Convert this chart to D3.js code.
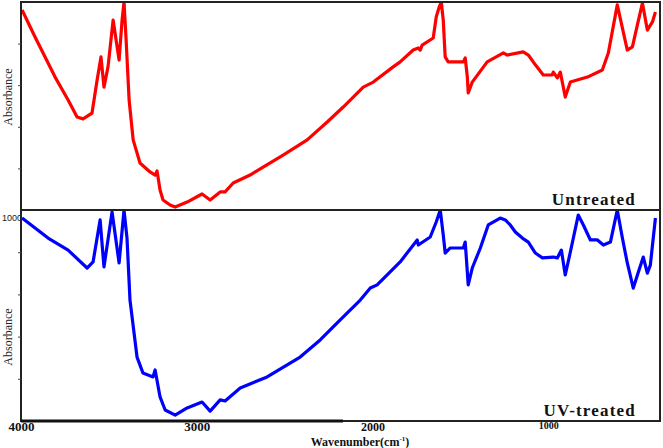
<!DOCTYPE html>
<html><head><meta charset="utf-8">
<script src="https://cdn.jsdelivr.net/npm/d3@7"></script>
<style>html,body{margin:0;padding:0;background:#fff;}svg{display:block;}</style>
</head><body>
<svg id="c" width="663" height="448"></svg>
<script>
// Wavenumber (cm^-1) and relative absorbance (0-100)
const untreatedWave = [3994,3920,3806,3732,3681,3647,3596,3567,3545,3528,3505,3476,3442,3425,3414,3402,3385,3362,3323,3266,3237,3226,3209,3192,3152,3123,3055,2970,2924,2867,2839,2793,2697,2509,2372,2258,2167,2053,1996,1883,1843,1769,1740,1729,1718,1655,1638,1621,1609,1598,1587,1570,1484,1473,1461,1456,1433,1348,1256,1234,1143,1114,1086,1029,978,972,949,932,904,875,778,693,659,608,551,522,494,465,437,408,391];
const untreatedAbs = [96.2,83.2,63.9,52.9,44.7,43.8,46.6,62.5,73.6,59.1,68.8,91.3,72.1,91.3,100,81.7,52.9,33.7,22.6,18.3,16.8,18.8,9.6,4.8,2.4,1.4,3.8,7.7,4.8,8.7,8.7,13.0,16.8,26.4,33.7,42.3,49.5,59.1,61.5,68.8,71.2,76.9,77.9,76.9,79.3,82.7,92.8,97.6,100,91.3,73.6,71.2,71.2,73.1,63.9,56.3,61.5,71.2,75.5,74.5,76.0,74.5,71.2,64.9,64.9,66.3,63.5,66.3,54.3,61.5,63.9,67.3,75.5,98.6,76.9,78.4,88.9,99.5,86.5,90.4,95.2];

const uvWave = [3994,3846,3732,3624,3590,3550,3528,3482,3442,3414,3397,3380,3340,3306,3249,3237,3209,3180,3123,3055,2970,2924,2867,2839,2753,2600,2412,2298,2184,2070,2013,1974,1843,1746,1740,1672,1638,1615,1598,1587,1558,1484,1473,1461,1456,1433,1387,1342,1274,1245,1217,1188,1148,1114,1074,1034,972,949,926,904,875,830,801,761,721,687,647,608,579,551,517,488,460,437,420,391];
const uvAbs = [96.2,86.7,81.0,72.5,75.4,95.3,73.0,99.1,74.9,100,86.7,57.3,30.3,22.7,20.9,24.2,11.4,5.2,2.8,6.2,9.0,4.7,10.0,9.5,15.6,20.9,30.3,38.4,47.9,57.3,63.0,64.5,75.4,85.8,83.4,87.2,94.3,100,88.2,79.6,82.0,82.0,84.8,70.6,64.5,72.5,82.0,92.9,96.2,95.3,92.9,89.6,86.7,84.8,79.6,77.3,77.7,77.3,81.0,69.2,80.1,97.6,92.9,85.8,85.8,83.4,84.8,100,86.7,74.9,63.0,70.6,77.7,70.1,73.9,96.2];

const xTicks = [4000,3000,2000,1000];
const panelLabels = ["Untreated","UV-treated"];
const yLabel = "Absorbance";
const xLabel = "Wavenumber(cm";

const svg = d3.select("#c");
const L = 21, R = 660;
const x = d3.scaleLinear().domain([4000, 365]).range([L, R]);
const panels = [
  {wave: untreatedWave, abs: untreatedAbs, top: 2, bottom: 210, color: "#ff0000", label: panelLabels[0], ly: 97},
  {wave: uvWave, abs: uvAbs, top: 210, bottom: 421, color: "#0000ff", label: panelLabels[1], ly: 337}
];

panels.forEach((p, i) => {
  const y = d3.scaleLinear().domain([0, 100]).range([p.bottom, p.top]);
  const cid = "clip" + i;
  svg.append("clipPath").attr("id", cid).append("rect")
    .attr("x", L).attr("y", p.top).attr("width", R - L).attr("height", p.bottom - p.top);
  const data = p.wave.map((w, k) => [w, p.abs[k]]);
  const line = d3.line().x(d => x(d[0])).y(d => y(d[1]));
  svg.append("path").datum(data)
    .attr("clip-path", `url(#${cid})`)
    .attr("d", line).attr("fill", "none")
    .attr("stroke", p.color).attr("stroke-width", 3.2)
    .attr("stroke-linejoin", "round");
  // frame
  svg.append("rect").attr("x", L).attr("y", p.top).attr("width", R - L).attr("height", p.bottom - p.top)
    .attr("fill", "none").attr("stroke", "#222").attr("stroke-width", 2);
  // left minor ticks
  const ya = d3.axisLeft(y).tickValues([20, 40, 60, 80]).tickSize(3).tickFormat("");
  svg.append("g").attr("transform", `translate(${L},0)`).call(ya)
    .call(g => g.select(".domain").remove())
    .selectAll("line").attr("stroke", "#444");
  // panel label
  svg.append("text").attr("x", 636).attr("y", p.bottom - 5).attr("text-anchor", "end")
    .attr("font-family", "Liberation Serif, serif").attr("font-weight", "bold")
    .attr("font-size", 17).attr("letter-spacing", 1.2).attr("fill", "#111").text(p.label);
  // y label
  svg.append("text").attr("transform", `translate(12,${p.ly}) rotate(-90)`)
    .attr("text-anchor", "middle").attr("font-family", "Liberation Serif, serif")
    .attr("font-size", 12).attr("fill", "#222").text(yLabel);
});

// small "1000" at top-left of lower panel
svg.append("text").attr("x", 2).attr("y", 221).attr("font-family", "Liberation Sans, sans-serif")
  .attr("font-size", 9).attr("fill", "#222").text("1000");

// bottom axis line thicker
svg.append("line").attr("x1", L).attr("x2", 343).attr("y1", 421).attr("y2", 421)
  .attr("stroke", "#111").attr("stroke-width", 3);

const xa = d3.axisBottom(x).tickValues(xTicks).tickSize(0).tickPadding(1).tickFormat(d3.format("d"));
const gx = svg.append("g").attr("transform", "translate(0,421)").call(xa);
gx.select(".domain").remove();
const sizes = {4000: 13, 3000: 13, 2000: 12, 1000: 10};
gx.selectAll("text").attr("font-family", "Liberation Serif, serif").attr("font-weight", "bold")
  .attr("fill", "#111").attr("font-size", d => sizes[d]);

const t = svg.append("text").attr("x", 360).attr("y", 446).attr("text-anchor", "middle")
  .attr("font-family", "Liberation Serif, serif").attr("font-weight", "bold")
  .attr("font-size", 12).attr("fill", "#111");
t.append("tspan").text(xLabel);
t.append("tspan").attr("font-size", 7).attr("dy", -5).text("-1");
t.append("tspan").attr("dy", 5).text(")");
</script>
</body></html>
